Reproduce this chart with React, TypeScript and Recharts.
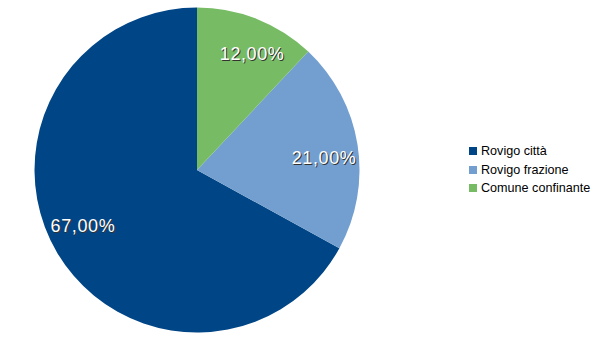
import React from 'react';
import { PieChart, Pie, Cell, Legend } from 'recharts';

const CATEGORIES = ['Rovigo città', 'Rovigo frazione', 'Comune confinante'];
const SHARES = [67, 21, 12];
const COLORS = ['#004586', '#729fcf', '#77bc65'];

const RADIAN = Math.PI / 180;
const FONT = 'Liberation Sans, Arial, sans-serif';

const renderLabel = (props: any) => {
  const { cx, cy, midAngle, outerRadius, value } = props;
  // LibreOffice-style placement: a little inside, nudged clockwise
  const r = outerRadius * 0.785;
  const a = (midAngle - 4) * RADIAN;
  const x = cx + r * Math.cos(-a);
  const y = cy + r * Math.sin(-a) - 1;
  const text = `${value.toFixed(2).replace('.', ',')}%`;
  const common = {
    textAnchor: 'middle' as const,
    dominantBaseline: 'central' as const,
    fontSize: 18,
    letterSpacing: 0.6,
    fontFamily: FONT,
  };
  return (
    <g>
      <text x={x + 1} y={y + 1} fill="#333" {...common}>
        {text}
      </text>
      <text x={x} y={y} fill="#ffffff" {...common}>
        {text}
      </text>
    </g>
  );
};

const renderLegend = () => (
  <div style={{ fontFamily: FONT, fontSize: 12.6, color: '#000' }}>
    {CATEGORIES.map((name, i) => (
      <div key={name} style={{ display: 'flex', alignItems: 'center', height: 18.5 }}>
        <span style={{ display: 'inline-block', width: 8, height: 8, background: COLORS[i], marginRight: 4 }} />
        <span>{name}</span>
      </div>
    ))}
  </div>
);

export default function App() {
  const data = CATEGORIES.map((name, i) => ({ name, value: SHARES[i] }));
  return (
    <div style={{ position: 'absolute', left: 0, top: 0, width: 605, height: 340, background: '#fff' }}>
      <PieChart width={605} height={340} margin={{ top: 0, right: 0, bottom: 0, left: 0 }}>
        <Pie
          data={data}
          dataKey="value"
          cx={197}
          cy={170}
          outerRadius={162.5}
          startAngle={90}
          endAngle={450}
          stroke="none"
          label={renderLabel}
          labelLine={false}
          isAnimationActive={false}
        >
          {data.map((entry, i) => (
            <Cell key={entry.name} fill={COLORS[i]} />
          ))}
        </Pie>
        <Legend
          content={renderLegend}
          layout="vertical"
          wrapperStyle={{ position: 'absolute', left: 469, top: 142, width: 136 }}
        />
      </PieChart>
    </div>
  );
}
